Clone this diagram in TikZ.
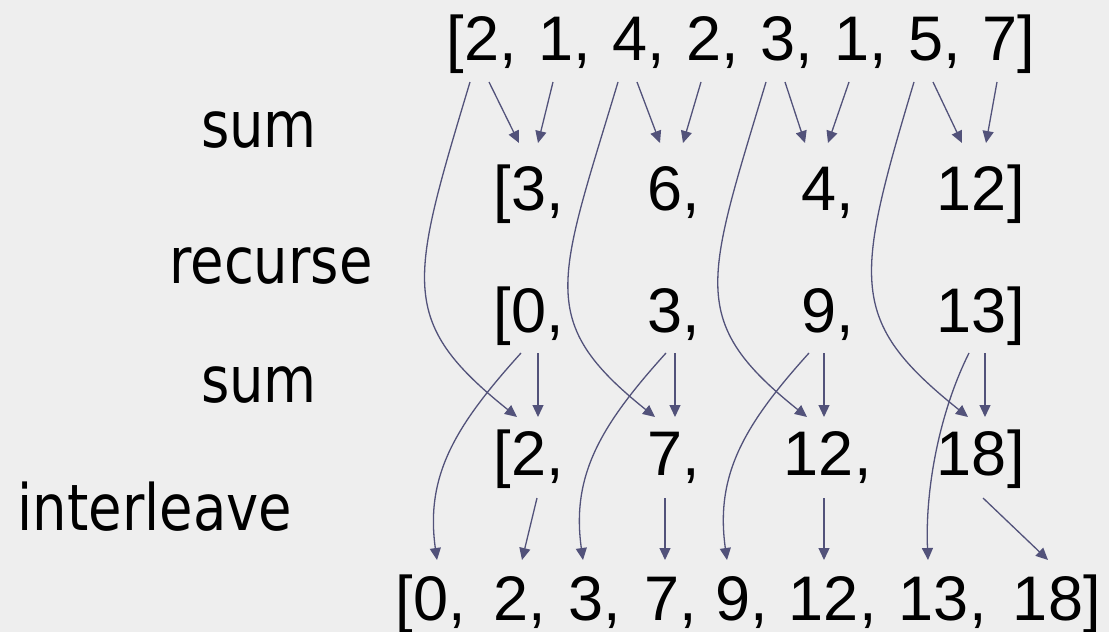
\documentclass[tikz,border=0pt]{standalone}
\usepackage{fontspec}
\newfontfamily\numfont{Liberation Sans}
\newfontfamily\labfont{DejaVu Sans}[FakeStretch=0.85]
\usetikzlibrary{arrows.meta,calc}
\definecolor{bgc}{RGB}{238,238,238}
\definecolor{arc}{RGB}{82,82,122}
\begin{document}
\begin{tikzpicture}[x=1pt,y=-1pt,
  num/.style={anchor=base,inner sep=0pt,font=\numfont\fontsize{63}{70}\selectfont},
  lab/.style={anchor=base,inner sep=0pt,font=\labfont\fontsize{64}{70}\selectfont},
  arr/.style={draw=arc,line width=1.3pt,-{Triangle[length=12pt,width=11pt]}}
]
\fill[bgc] (0,0) rectangle (1109,632);
\useasboundingbox (0,0) rectangle (1109,632);

% labels
\node[lab] (l1) at (259,147) {sum};
\node[lab] (l2) at (271,283) {recurse};
\node[lab] (l3) at (259,402) {sum};
\node[lab] (l4) at (155,530) {interleave};

% row 1
\node[num] (r1a) at (482,60) {\llap{[}2\rlap{,}};
\node[num] (r1b) at (556,60) {1\rlap{,}};
\node[num] (r1c) at (630,60) {4\rlap{,}};
\node[num] (r1d) at (704,60) {2\rlap{,}};
\node[num] (r1e) at (778,60) {3\rlap{,}};
\node[num] (r1f) at (852,60) {1\rlap{,}};
\node[num] (r1g) at (926,60) {5\rlap{,}};
\node[num] (r1h) at (1000,60) {7\rlap{]}};

% row 2
\node[num] (r2a) at (529,210) {\llap{[}3\rlap{,}};
\node[num] (r2b) at (665,210) {6\rlap{,}};
\node[num] (r2c) at (819,210) {4\rlap{,}};
\node[num] (r2d) at (972,210) {12\rlap{]}};

% row 3
\node[num] (r3a) at (529,332) {\llap{[}0\rlap{,}};
\node[num] (r3b) at (665,332) {3\rlap{,}};
\node[num] (r3c) at (819,332) {9\rlap{,}};
\node[num] (r3d) at (972,332) {13\rlap{]}};

% row 4
\node[num] (r4a) at (529,475) {\llap{[}2\rlap{,}};
\node[num] (r4b) at (665,475) {7\rlap{,}};
\node[num] (r4c) at (819,475) {12\rlap{,}};
\node[num] (r4d) at (972,475) {18\rlap{]}};

% row 5
\node[num] (r5a) at (431,620) {\llap{[}0\rlap{,}};
\node[num] (r5b) at (511,620) {2\rlap{,}};
\node[num] (r5c) at (586,620) {3\rlap{,}};
\node[num] (r5d) at (662,620) {7\rlap{,}};
\node[num] (r5e) at (733,620) {9\rlap{,}};
\node[num] (r5f) at (824,620) {12\rlap{,}};
\node[num] (r5g) at (934,620) {13\rlap{,}};
\node[num] (r5h) at (1048,620) {18\rlap{]}};

% row 1 -> row 2 (sum)
\draw[arr] ($(r1a.base)+(7,22)$) -- ($(r2a.base)+(-10,-67)$);
\draw[arr] ($(r1b.base)+(-3,22)$) -- ($(r2a.base)+(9,-67)$);
\draw[arr] ($(r1c.base)+(7,22)$) -- ($(r2b.base)+(-5,-67)$);
\draw[arr] ($(r1d.base)+(-3,22)$) -- ($(r2b.base)+(18,-67)$);
\draw[arr] ($(r1e.base)+(7,22)$) -- ($(r2c.base)+(-14,-67)$);
\draw[arr] ($(r1f.base)+(-3,22)$) -- ($(r2c.base)+(9,-67)$);
\draw[arr] ($(r1g.base)+(7,22)$) -- ($(r2d.base)+(-10,-67)$);
\draw[arr] ($(r1h.base)+(-3,22)$) -- ($(r2d.base)+(14,-67)$);

% row 1 -> row 4 (long curves)
\draw[arr] ($(r1a.base)+(-12,22)$) .. controls +(-60,200) and +(-120,-96) .. ($(r4a.base)+(-12,-58)$);
\draw[arr] ($(r1c.base)+(-12,22)$) .. controls +(-60,200) and +(-120,-96) .. ($(r4b.base)+(-10,-58)$);
\draw[arr] ($(r1e.base)+(-12,22)$) .. controls +(-60,200) and +(-120,-96) .. ($(r4c.base)+(-12,-58)$);
\draw[arr] ($(r1g.base)+(-12,22)$) .. controls +(-60,200) and +(-120,-96) .. ($(r4d.base)+(-4,-58)$);

% row 3 -> row 4 (sum)
\draw[arr] ($(r3a.base)+(9,21)$) -- ($(r4a.base)+(9,-58)$);
\draw[arr] ($(r3b.base)+(10,21)$) -- ($(r4b.base)+(10,-58)$);
\draw[arr] ($(r3c.base)+(5,21)$) -- ($(r4c.base)+(5,-58)$);
\draw[arr] ($(r3d.base)+(13,21)$) -- ($(r4d.base)+(13,-58)$);

% row 3 -> row 5 (interleave curves)
\draw[arr] ($(r3a.base)+(-8,21)$) .. controls +(-65,72) and +(-12,-85) .. ($(r5a.base)+(6,-60)$);
\draw[arr] ($(r3b.base)+(1,21)$) .. controls +(-65,72) and +(-12,-85) .. ($(r5c.base)+(-3,-60)$);
\draw[arr] ($(r3c.base)+(-10,21)$) .. controls +(-65,72) and +(-12,-85) .. ($(r5e.base)+(-6,-60)$);
\draw[arr] ($(r3d.base)+(-3,21)$) .. controls +(-30,60) and +(-3,-70) .. ($(r5g.base)+(-6,-60)$);

% row 4 -> row 5 (interleave)
\draw[arr] ($(r4a.base)+(8,23)$) -- ($(r5b.base)+(11,-60)$);
\draw[arr] ($(r4b.base)+(0,23)$) -- ($(r5d.base)+(3,-60)$);
\draw[arr] ($(r4c.base)+(5,23)$) -- ($(r5f.base)+(0,-60)$);
\draw[arr] ($(r4d.base)+(11,23)$) -- ($(r5h.base)+(0,-60)$);
\end{tikzpicture}
\end{document}
